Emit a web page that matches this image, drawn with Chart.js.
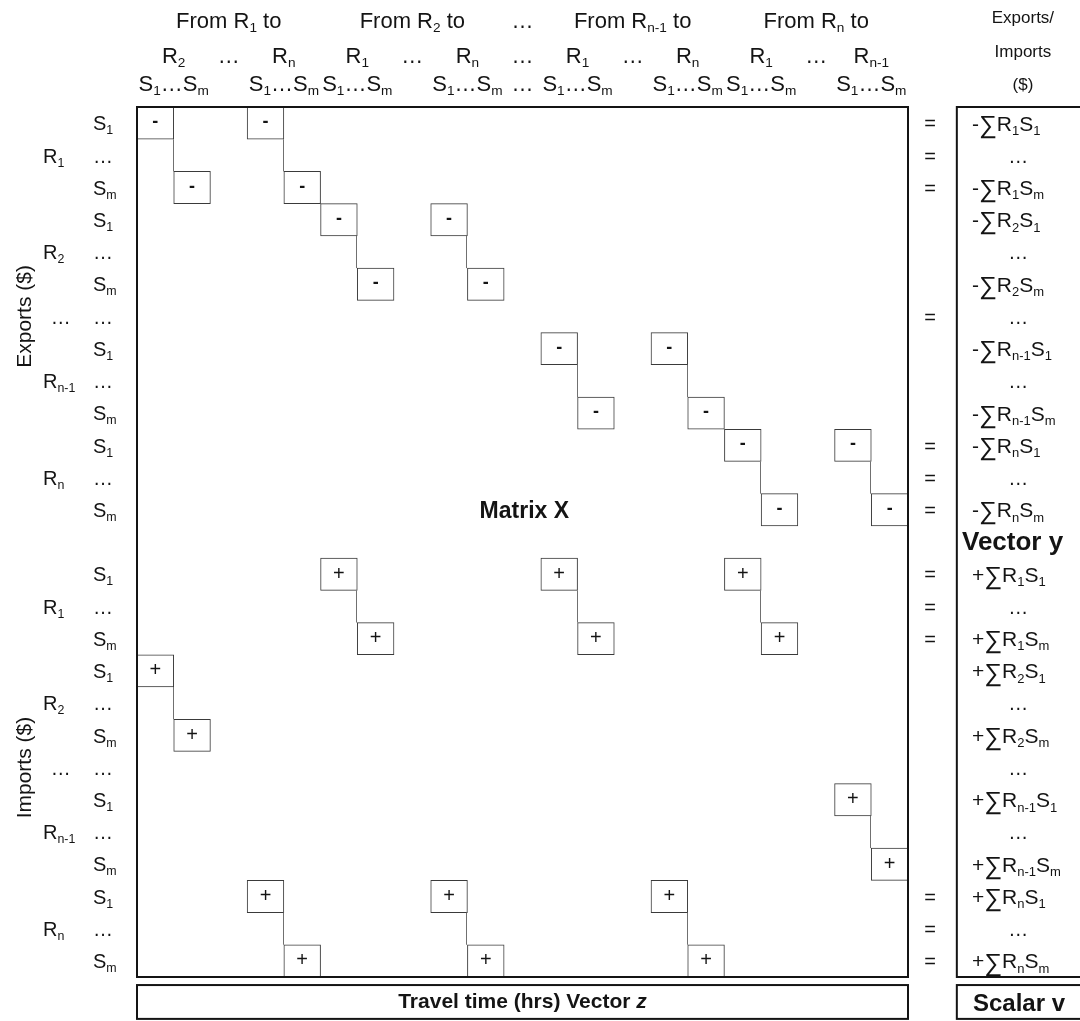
<!DOCTYPE html>
<html>
<head>
<meta charset="utf-8">
<title>Matrix X</title>
<script src="https://cdn.jsdelivr.net/npm/chart.js@4.4.1/dist/chart.umd.min.js"></script>
<style>
  html, body { margin: 0; padding: 0; background: #fff; overflow: hidden; }
  #wrap { width: 1080px; height: 1021px; }
</style>
</head>
<body>
<div id="wrap"><canvas id="matrixChart"></canvas></div>
<script>
// DATA
// rows of the matrix, top to bottom: exports block, empty row (Vector y), imports block
const rowLabels = [
  'S_1', '…', 'S_m', 'S_1', '…', 'S_m', '…', 'S_1', '…', 'S_m', 'S_1', '…', 'S_m',
  '',
  'S_1', '…', 'S_m', 'S_1', '…', 'S_m', '…', 'S_1', '…', 'S_m', 'S_1', '…', 'S_m'
];
const regionLabels = ['R_1', 'R_2', '…', 'R_{n-1}', 'R_n', 'R_1', 'R_2', '…', 'R_{n-1}', 'R_n'];
const regionRows = [1, 4, 6, 8, 11, 15, 18, 20, 22, 25];
const blockLabels = ['Exports ($)', 'Imports ($)'];
const blockRows = [6, 20];

// columns (21 slots across the matrix)
const columnCount = 21;
const originLabels = ['From R_1 to', 'From R_2 to', '…', 'From R_{n-1} to', 'From R_n to'];
const originCols = [2, 7, 10, 13, 18];
const destLabels = ['R_2', '…', 'R_n', 'R_1', '…', 'R_n', '…', 'R_1', '…', 'R_n', 'R_1', '…', 'R_{n-1}'];
const destCols = [0.5, 2, 3.5, 5.5, 7, 8.5, 10, 11.5, 13, 14.5, 16.5, 18, 19.5];
const sectorLabels = ['S_1…S_m', 'S_1…S_m', 'S_1…S_m', 'S_1…S_m', '…', 'S_1…S_m', 'S_1…S_m', 'S_1…S_m', 'S_1…S_m'];
const sectorCols = [0.5, 3.5, 5.5, 8.5, 10, 11.5, 14.5, 16.5, 19.5];

// non-zero cells of matrix X
const minusRows = [0, 0, 2, 2, 3, 3, 5, 5, 7, 7, 9, 9, 10, 10, 12, 12];
const minusCols = [0, 3, 1, 4, 5, 8, 6, 9, 11, 14, 12, 15, 16, 19, 17, 20];
const plusRows = [14, 14, 14, 16, 16, 16, 17, 19, 21, 23, 24, 24, 24, 26, 26, 26];
const plusCols = [5, 11, 16, 6, 12, 17, 0, 1, 19, 20, 3, 8, 14, 4, 9, 15];

// right hand side (vector y)
const rhsLabels = [
  '-∑R_1S_1', '…', '-∑R_1S_m', '-∑R_2S_1', '…', '-∑R_2S_m', '…',
  '-∑R_{n-1}S_1', '…', '-∑R_{n-1}S_m', '-∑R_nS_1', '…', '-∑R_nS_m',
  '',
  '+∑R_1S_1', '…', '+∑R_1S_m', '+∑R_2S_1', '…', '+∑R_2S_m', '…',
  '+∑R_{n-1}S_1', '…', '+∑R_{n-1}S_m', '+∑R_nS_1', '…', '+∑R_nS_m'
];
const equalRows = [0, 1, 2, 6, 10, 11, 12, 14, 15, 16, 24, 25, 26];
const rhsHeader = ['Exports/', 'Imports', '($)'];

const FONT = '"Liberation Sans", Arial, Helvetica, sans-serif';
const INK = '#141414';

// --- text helpers: "R_{n-1}" -> R with subscript n-1 ---
function parseRich(str) {
  const parts = [];
  let buf = '';
  for (let i = 0; i < str.length; i++) {
    const ch = str[i];
    if (ch === '_') {
      if (buf) { parts.push({ t: buf }); buf = ''; }
      if (str[i + 1] === '{') {
        const j = str.indexOf('}', i);
        parts.push({ t: str.slice(i + 2, j), sub: true });
        i = j;
      } else {
        parts.push({ t: str[i + 1], sub: true });
        i++;
      }
    } else if (ch === '∑') {
      if (buf) { parts.push({ t: buf }); buf = ''; }
      parts.push({ t: ch, big: true });
    } else {
      buf += ch;
    }
  }
  if (buf) parts.push({ t: buf });
  return parts;
}

function drawRich(ctx, str, x, y, size, align, weight) {
  const parts = parseRich(str);
  const w = weight || 'normal';
  const fontOf = p => `${w} ${p.sub ? size * 0.62 : p.big ? size * 1.2 : size}px ${FONT}`;
  let total = 0;
  parts.forEach(p => { ctx.font = fontOf(p); p.w = ctx.measureText(p.t).width; total += p.w; });
  let cx = align === 'center' ? x - total / 2 : align === 'right' ? x - total : x;
  const base = y + size * 0.36;
  ctx.textAlign = 'left';
  ctx.textBaseline = 'alphabetic';
  parts.forEach(p => {
    ctx.font = fontOf(p);
    const by = p.sub ? base + size * 0.2 : p.big ? base + size * 0.1 : base;
    ctx.fillText(p.t, cx, by);
    cx += p.w;
  });
}

// one floating-bar dataset per "layer" (a row holds up to 3 boxes)
function buildLayers(rows, cols, sign) {
  const layers = [];
  const used = {};
  rows.forEach((r, i) => {
    const k = used[r] || 0;
    used[r] = k + 1;
    if (!layers[k]) layers[k] = new Array(rowLabels.length).fill(null);
    layers[k][r] = [cols[i] - 0.5, cols[i] + 0.5];
  });
  return layers.map((data, k) => ({
    label: sign + k,
    sign: sign,
    data: data,
    grouped: false,
    backgroundColor: '#ffffff',
    borderColor: '#3a3a3a',
    borderWidth: 1,
    borderSkipped: false,
    categoryPercentage: 1,
    barPercentage: 1
  }));
}

// --- PLUGIN: connectors, signs, labels, frames ---
const matrixDecor = {
  id: 'matrixDecor',
  afterDatasetsDraw(chart) {
    const ctx = chart.ctx;
    const xs = chart.scales.x, ys = chart.scales.y;
    ctx.save();

    // staircase connectors S1 box -> Sm box
    ctx.strokeStyle = '#707070';
    ctx.lineWidth = 1;
    [[minusRows, minusCols], [plusRows, plusCols]].forEach(([rows, cols]) => {
      const cells = new Set(rows.map((r, i) => r + ',' + cols[i]));
      rows.forEach((r, i) => {
        const c = cols[i];
        if (cells.has((r + 2) + ',' + (c + 1))) {
          const px = Math.round(xs.getPixelForValue(c + 0.5)) - 0.5;
          ctx.beginPath();
          ctx.moveTo(px, ys.getPixelForValue(r + 0.5));
          ctx.lineTo(px, ys.getPixelForValue(r + 1.5));
          ctx.stroke();
        }
      });
    });

    // sign inside every box
    ctx.fillStyle = INK;
    ctx.textAlign = 'center';
    ctx.textBaseline = 'middle';
    chart.data.datasets.forEach((ds, di) => {
      chart.getDatasetMeta(di).data.forEach((el, i) => {
        if (!ds.data[i]) return;
        const p = el.getCenterPoint();
        if (ds.sign === '-') {
          ctx.font = `bold 18px ${FONT}`;
          ctx.fillText('-', p.x, p.y - 1);
        } else {
          ctx.font = `normal 20px ${FONT}`;
          ctx.fillText('+', p.x, p.y);
        }
      });
    });
    ctx.restore();
  },

  afterDraw(chart) {
    const ctx = chart.ctx;
    const xs = chart.scales.x, ys = chart.scales.y;
    const area = chart.chartArea;
    const X = v => xs.getPixelForValue(v);
    const Y = v => ys.getPixelForValue(v);
    ctx.save();
    ctx.fillStyle = INK;
    ctx.strokeStyle = INK;

    // header lines above the matrix
    originLabels.forEach((t, i) => drawRich(ctx, t, X(originCols[i]), Y(-3.2), 22, 'center'));
    destLabels.forEach((t, i) => drawRich(ctx, t, X(destCols[i]), Y(-2.11), 22, 'center'));
    sectorLabels.forEach((t, i) => drawRich(ctx, t, X(sectorCols[i]), Y(-1.25), 22, 'center'));

    // row labels
    rowLabels.forEach((t, i) => { if (t) drawRich(ctx, t, X(-1.7), Y(i), 20, 'left'); });
    regionLabels.forEach((t, i) => drawRich(ctx, t, X(t === '…' ? -2.85 : -3.06), Y(regionRows[i]), 20, 'left'));
    blockLabels.forEach((t, i) => {
      ctx.save();
      ctx.translate(X(-3.6), Y(blockRows[i]));
      ctx.rotate(-Math.PI / 2);
      drawRich(ctx, t, 0, 0, 21, 'center');
      ctx.restore();
    });

    // Matrix X title
    drawRich(ctx, 'Matrix X', X(10.05), Y(12), 23, 'center', 'bold');

    // equal signs and right-hand side vector
    equalRows.forEach(r => drawRich(ctx, '=', X(21.1), Y(r), 20, 'center'));
    rhsLabels.forEach((t, i) => {
      if (!t) return;
      if (t === '…') drawRich(ctx, t, X(23.5), Y(i), 20, 'center');
      else drawRich(ctx, t, X(22.24), Y(i), 21, 'left');
    });
    drawRich(ctx, 'Vector y', X(21.97), Y(12.95), 26, 'left', 'bold');
    rhsHeader.forEach((t, i) => drawRich(ctx, t, X(23.63), Y(-3.29 + i * 1.04), 17, 'center'));

    // frames (right boxes run past the edge of the picture)
    ctx.lineWidth = 2;
    ctx.strokeRect(area.left, area.top, area.right - area.left, area.bottom - area.top);
    ctx.strokeRect(X(21.83), area.top, X(27) - X(21.83), area.bottom - area.top);
    const bTop = Y(26.75), bBot = Y(27.8);
    ctx.strokeRect(area.left, bTop, area.right - area.left, bBot - bTop);
    ctx.strokeRect(X(21.83), bTop, X(27) - X(21.83), bBot - bTop);

    // bottom captions
    const cy = (bTop + bBot) / 2;
    ctx.font = `bold 21px ${FONT}`;
    const a = 'Travel time (hrs) Vector ';
    const wa = ctx.measureText(a).width;
    ctx.font = `italic bold 21px ${FONT}`;
    const wz = ctx.measureText('z').width;
    const sx = X(10) - (wa + wz) / 2;
    ctx.textAlign = 'left';
    ctx.textBaseline = 'middle';
    ctx.font = `bold 21px ${FONT}`;
    ctx.fillText(a, sx, cy);
    ctx.font = `italic bold 21px ${FONT}`;
    ctx.fillText('z', sx + wa, cy);
    drawRich(ctx, 'Scalar v', X(22.27), cy, 24, 'left', 'bold');

    ctx.restore();
  }
};

// START APP
document.addEventListener('DOMContentLoaded', () => {
  const ctx = document.getElementById('matrixChart').getContext('2d');
  const datasets = buildLayers(minusRows, minusCols, '-').concat(buildLayers(plusRows, plusCols, '+'));

  new Chart(ctx, {
    type: 'bar',
    data: { labels: rowLabels, datasets: datasets },
    options: {
      indexAxis: 'y',
      responsive: true,
      maintainAspectRatio: false,
      animation: false,
      layout: { padding: { left: 137, right: 172, top: 107, bottom: 44 } },
      scales: {
        x: { type: 'linear', min: -0.5, max: columnCount - 0.5, display: false },
        y: { type: 'category', display: false, offset: true }
      },
      plugins: {
        legend: { display: false },
        tooltip: { enabled: false }
      }
    },
    plugins: [matrixDecor]
  });
});
</script>
</body>
</html>
